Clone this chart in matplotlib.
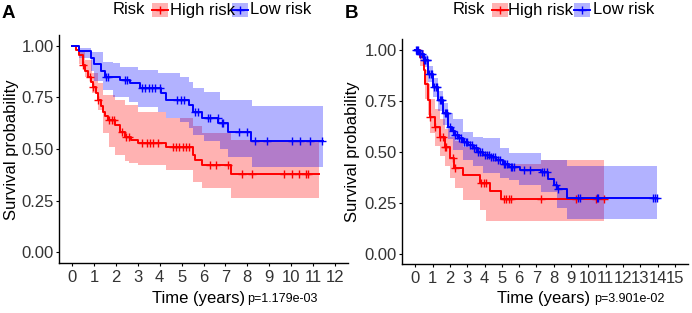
import numpy as np
import matplotlib
matplotlib.use("Agg")
import matplotlib.pyplot as plt
from matplotlib.patches import Rectangle
from matplotlib.lines import Line2D

plt.rcParams['font.family'] = ['Liberation Sans', 'DejaVu Sans']

# ---------------- panel A data ----------------
a_high_t = [0, 0.18, 0.33, 0.49, 0.61, 0.72, 0.85, 0.95, 1.08, 1.17, 1.3, 1.4, 1.52, 1.63,
            1.94, 2.17, 2.4, 2.7, 3.01, 4.31, 5.5, 5.6, 5.92, 7.25]
a_high_s = [1.0, 0.98, 0.956, 0.908, 0.88, 0.851, 0.827, 0.803, 0.77, 0.738, 0.71, 0.681, 0.66, 0.641,
            0.617, 0.584, 0.56, 0.544, 0.528, 0.508, 0.47, 0.445, 0.422, 0.379]
a_high_end = 11.27
a_high_band_t = [0, 0.33, 0.6, 0.9, 1.17, 1.4, 1.7, 1.94, 2.4, 2.6, 3.01, 4.31, 5.5, 5.92, 7.25]
a_high_hi = [1.0, 0.97, 0.93, 0.87, 0.82, 0.762, 0.762, 0.738, 0.714, 0.714, 0.681, 0.649, 0.61, 0.576, 0.544]
a_high_lo = [1.0, 0.91, 0.85, 0.77, 0.69, 0.58, 0.51, 0.471, 0.44, 0.43, 0.422, 0.398, 0.341, 0.309, 0.26]
a_high_cens = [0.5, 0.8, 0.95, 1.2, 1.7, 1.8, 1.9, 2.3, 2.45, 2.6, 3.2, 3.4, 3.55, 3.7, 3.9,
               4.6, 4.75, 4.9, 5.05, 5.2, 5.35, 6.3, 6.57, 7.1, 7.75, 8.21, 9.66, 10.05, 10.35, 10.66, 10.76]

a_low_t = [0, 0.33, 0.87, 1.0, 1.3, 1.5, 2.17, 2.63, 3.09, 4.08, 4.31, 5.35, 5.53, 5.92, 6.68, 7.14, 8.18]
a_low_s = [1.0, 0.975, 0.94, 0.91, 0.88, 0.851, 0.835, 0.819, 0.794, 0.77, 0.738, 0.714, 0.678, 0.649,
           0.625, 0.584, 0.54]
a_low_end = 11.47
a_low_band_t = [0, 0.33, 0.87, 1.0, 1.4, 1.86, 2.17, 2.6, 3.01, 3.93, 4.31, 4.92, 5.35, 5.53, 6.0, 6.76, 7.14, 8.2]
a_low_hi = [1.0, 0.99, 0.972, 0.97, 0.924, 0.916, 0.90, 0.90, 0.883, 0.867, 0.867, 0.851, 0.827, 0.795,
            0.775, 0.738, 0.738, 0.71]
a_low_lo = [1.0, 0.94, 0.88, 0.83, 0.786, 0.754, 0.754, 0.73, 0.705, 0.681, 0.649, 0.632, 0.60, 0.57,
            0.54, 0.50, 0.463, 0.411]
a_low_cens = [1.55, 1.65, 2.4, 2.5, 3.2, 3.35, 3.5, 3.65, 3.8, 4.0, 4.8, 4.95, 5.1, 5.6, 5.76,
              6.2, 6.3, 6.67, 6.83, 6.9, 7.6, 7.98, 8.36, 8.9, 10.05, 10.43, 10.85, 11.42]

# ---------------- panel B data ----------------
b_high_t = [0, 0.29, 0.48, 0.57, 0.71, 0.86, 1.15, 1.43, 1.72, 2.0, 2.25, 2.73, 3.72, 4.3, 4.97]
b_high_s = [1.0, 0.964, 0.899, 0.834, 0.753, 0.671, 0.622, 0.574, 0.525, 0.468, 0.419, 0.387, 0.346,
            0.305, 0.268]
b_high_end = 10.9
b_high_band_t = [0, 0.29, 0.48, 0.57, 0.71, 0.86, 1.15, 1.43, 1.72, 2.0, 2.29, 2.77, 3.72, 4.1, 4.3,
                 4.97, 7.26]
b_high_hi = [1.0, 1.0, 0.95, 0.90, 0.83, 0.76, 0.71, 0.66, 0.61, 0.57, 0.55, 0.525, 0.50, 0.50, 0.47,
             0.44, 0.46]
b_high_lo = [1.0, 0.92, 0.84, 0.76, 0.68, 0.59, 0.53, 0.48, 0.43, 0.37, 0.32, 0.265, 0.216, 0.159,
             0.159, 0.159, 0.159]
b_high_cens = [0.86, 1.15, 1.43, 1.6, 1.72, 1.8, 2.2, 2.3, 3.8, 3.95, 4.1, 5.1, 5.25, 5.4, 5.55,
               7.25, 9.27, 10.45, 10.9]

b_low_t = [0, 0.2, 0.48, 0.76, 1.05, 1.34, 1.62, 1.91, 2.1, 2.29, 2.5, 2.77, 3.05, 3.34, 3.6, 3.91,
           4.3, 4.68, 5.05, 5.44, 6.02, 7.26, 7.64, 8.02, 8.2, 8.75]
b_low_s = [1.0, 0.98, 0.948, 0.883, 0.818, 0.753, 0.688, 0.622, 0.60, 0.582, 0.565, 0.549, 0.533, 0.517,
           0.50, 0.484, 0.472, 0.46, 0.44, 0.427, 0.411, 0.40, 0.366, 0.338, 0.315, 0.273]
b_low_end = 13.94
b_low_band_t = [0, 0.2, 0.48, 0.76, 1.05, 1.34, 1.62, 1.91, 2.2, 2.77, 3.34, 3.91, 4.87, 5.44, 6.0,
                7.26, 8.2, 8.75]
b_low_hi = [1.0, 1.0, 0.975, 0.92, 0.86, 0.80, 0.74, 0.69, 0.66, 0.598, 0.574, 0.565, 0.517, 0.493,
            0.493, 0.46, 0.46, 0.431]
b_low_lo = [1.0, 0.96, 0.915, 0.84, 0.77, 0.70, 0.63, 0.56, 0.509, 0.46, 0.43, 0.395, 0.37, 0.36,
            0.338, 0.30, 0.224, 0.17]
b_low_cens = [0.05, 0.1, 0.15, 0.25, 0.3, 0.4, 0.5, 0.55, 0.65, 0.7, 0.8, 0.9, 0.95, 1.1, 1.2, 1.25,
              1.4, 1.5, 1.55, 1.7, 1.8, 1.85, 2.0, 2.15, 2.3, 2.4, 2.55, 2.65, 2.8, 2.9, 3.0, 3.15,
              3.25, 3.4, 3.5, 3.65, 3.75, 3.85, 4.0, 4.15, 4.25, 4.4, 4.5, 4.6, 4.8, 4.9, 5.1, 5.2,
              5.3, 5.5, 5.6, 5.7, 6.3, 6.6, 7.3, 7.45, 7.6, 8.1, 8.25, 9.4, 9.5, 10.5, 10.55,
              13.7, 13.85, 13.94]

a_xticks = list(range(0, 13))
b_xticks = list(range(0, 16))
yticks = [0.0, 0.25, 0.5, 0.75, 1.0]
ytick_labels = ["0.00", "0.25", "0.50", "0.75", "1.00"]
groups = ["High risk", "Low risk"]
pvals = ["p=1.179e-03", "p=3.901e-02"]

RED = "#FF0000"
BLUE = "#0000FF"
W, H = 692, 313


def fx(x):
    return x / W


def fy(y):
    return 1 - y / H


def draw_curve(ax, t, s, end, band_t, lo, hi, cens, color):
    bt = np.append(band_t, end)
    ax.fill_between(bt, np.append(lo, lo[-1]), np.append(hi, hi[-1]),
                    step="post", color=color, alpha=0.3, linewidth=0)
    tt = np.append(t, end)
    ss = np.append(s, s[-1])
    ax.step(tt, ss, where="post", color=color, lw=1.4)
    idx = np.searchsorted(t, cens, side="right") - 1
    ax.plot(cens, np.asarray(s)[idx], linestyle="none", marker="+", color=color,
            markersize=5.5, mew=1.0)


def style_axes(ax, xlim, xticks):
    ax.set_xlim(*xlim)
    ax.set_ylim(-0.053, 1.053)
    ax.set_xticks(xticks)
    ax.set_yticks(yticks)
    ax.set_yticklabels(ytick_labels)
    for side in ["top", "right"]:
        ax.spines[side].set_visible(False)
    for side in ["left", "bottom"]:
        ax.spines[side].set_linewidth(1.0)
    ax.tick_params(axis="both", length=2.3, width=0.8, colors="black",
                   labelcolor="#333333", labelsize=12, pad=1.5)
    ax.tick_params(axis="x", pad=2.5)


fig = plt.figure(figsize=(W / 100, H / 100), dpi=100)

axA = fig.add_axes([fx(59), fy(263), fx(348 - 59), (263 - 35) / H])
draw_curve(axA, a_high_t, a_high_s, a_high_end, a_high_band_t, a_high_lo, a_high_hi, a_high_cens, RED)
draw_curve(axA, a_low_t, a_low_s, a_low_end, a_low_band_t, a_low_lo, a_low_hi, a_low_cens, BLUE)
style_axes(axA, (-0.6, 12.6), a_xticks)

axB = fig.add_axes([fx(402.3), fy(264.3), fx(688 - 402.3), (264.3 - 39) / H])
draw_curve(axB, b_high_t, b_high_s, b_high_end, b_high_band_t, b_high_lo, b_high_hi, b_high_cens, RED)
draw_curve(axB, b_low_t, b_low_s, b_low_end, b_low_band_t, b_low_lo, b_low_hi, b_low_cens, BLUE)
style_axes(axB, (-0.75, 15.75), b_xticks)

# panel letters
fig.text(fx(2), fy(14), "A", fontsize=13.5, fontweight="bold", va="center", ha="left")
fig.text(fx(345), fy(14), "B", fontsize=13.5, fontweight="bold", va="center", ha="left")

# y labels
fig.text(fx(12), fy(150), "Survival probability", rotation=90, fontsize=12,
         va="center", ha="center")
fig.text(fx(353), fy(152), "Survival probability", rotation=90, fontsize=12,
         va="center", ha="center")

# x labels with p values
fig.text(fx(152), fy(298), "Time (years)", fontsize=12, va="center", ha="left")
fig.text(fx(247), fy(299), pvals[0], fontsize=9, va="center", ha="left")
fig.text(fx(497), fy(298), "Time (years)", fontsize=12, va="center", ha="left")
fig.text(fx(594), fy(299), pvals[1], fontsize=9, va="center", ha="left")


def legend(x_risk, x_key1, x_txt1, x_key2, x_txt2):
    yc = 10
    fig.text(fx(x_risk), fy(yc), "Risk", fontsize=12, va="center", ha="left")
    for xk, xt, col, lab in [(x_key1, x_txt1, RED, groups[0]), (x_key2, x_txt2, BLUE, groups[1])]:
        fig.add_artist(Rectangle((fx(xk), fy(yc + 7)), 16 / W, 14 / H, transform=fig.transFigure,
                                 facecolor=col, alpha=0.3, linewidth=0))
        fig.add_artist(Line2D([fx(xk), fx(xk + 16)], [fy(yc), fy(yc)], transform=fig.transFigure,
                              color=col, lw=1.4))
        fig.add_artist(Line2D([fx(xk + 8)], [fy(yc)], transform=fig.transFigure, color=col,
                              marker="+", markersize=5.5, mew=1.0))
        fig.text(fx(xt), fy(yc), lab, fontsize=12, va="center", ha="left")


legend(113, 152, 170, 232, 250)
legend(453, 491.5, 508, 574, 593)

fig.savefig("out.png", dpi=100)
